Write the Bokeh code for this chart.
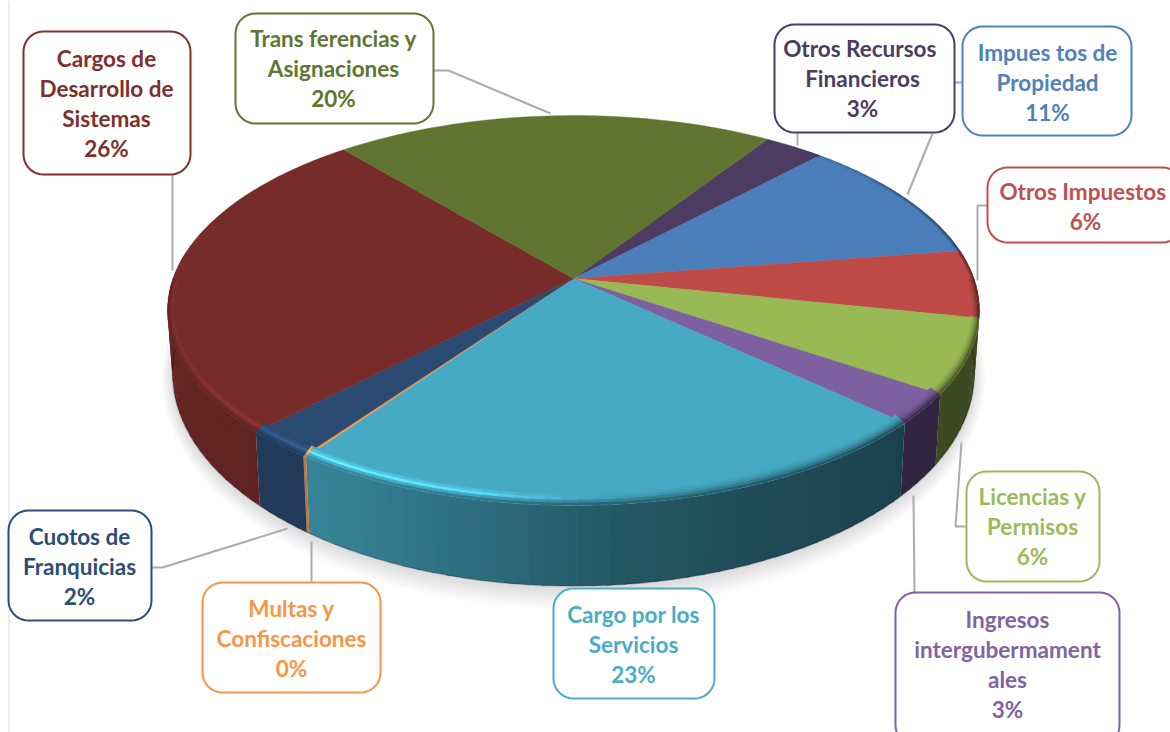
import numpy as np
from bokeh.plotting import figure
from bokeh.models import Range1d
from bokeh.core.properties import value
from bokeh.embed import file_html
from bokeh.resources import INLINE

# ---- data (clockwise, starting at the Otros Recursos slice) ----
categories = ["Otros Recursos Financieros", "Impuestos de Propiedad", "Otros Impuestos",
              "Licencias y Permisos", "Ingresos intergubermamentales", "Cargo por los Servicios",
              "Multas y Confiscaciones", "Cuotos de Franquicias", "Cargos de Desarrollo de Sistemas",
              "Transferencias y Asignaciones"]
slice_values = [2.8, 10.5, 5.6, 6.1, 2.5, 22.9, 0.12, 2.4, 26.4, 20.4]
slice_colors = ["#4D3B62", "#4A7EBB", "#BE4B48", "#98B954", "#7D60A0",
                "#46AAC4", "#F79646", "#2A4A72", "#772C2A", "#5F7530"]
label_lines = [
    ["Otros  Recursos", "Financieros", "3%"],
    ["Impues tos de", "Propiedad", "11%"],
    ["Otros  Impuestos", "6%"],
    ["Licencias y", "Permisos", "6%"],
    ["Ingresos", "intergubermament", "ales", "3%"],
    ["Cargo por los", "Servicios", "23%"],
    ["Multas y", "Confiscaciones", "0%"],
    ["Cuotos de", "Franquicias", "2%"],
    ["Cargos de", "Desarrollo de", "Sistemas", "26%"],
    ["Trans ferencias y", "Asignaciones", "20%"],
]
text_colors = ["#4D3B62", "#4F81BD", "#C0504D", "#9BBB59", "#8064A2",
               "#4BACC6", "#F79646", "#2C4D75", "#7F2F2D", "#5F7530"]

# layout: box left, top, right, bottom, text centre x, first-line y
boxes = [(774, 24, 954, 132, 862, 48), (962, 26, 1131, 135, 1047, 52), (987, 167, 1182, 242, 1085, 191),
         (966, 471, 1099, 581, 1032, 496), (895, 592, 1119, 745, 1007, 619), (553, 588, 714, 698, 633, 614),
         (202, 582, 380, 692, 291, 608), (8, 510, 151, 620, 79, 536), (23, 31, 190, 174, 106, 58),
         (235, 13, 433, 123, 333, 38)]
leaders = [[(797, 132), (797, 145)], [(954, 82), (962, 82)], [(932, 133), (907, 194)],
           [(987, 205), (977, 205), (977, 280)], [(966, 526), (955, 526), (961, 442)],
           [(913, 495), (914, 592)], [(151, 567), (162, 567), (287, 528)], [(311, 541), (311, 582)],
           [(172, 174), (172, 270)], [(433, 70), (448, 70), (550, 113)]]
LINE_HEIGHT = 30

# ---- projection of the pie onto the page ----
START = 56.6
CX, CY, A, B, K = 573.0, 278.0, 400.5, 189.7, 0.164
CY2, A2, B2 = 338.0, 395.5, 207.0


def top_pt(th, ru=1.0, rv=1.0):
    t = np.radians(th)
    u, v = ru * np.cos(t), -rv * np.sin(t)
    d = 1 - K * v
    return CX + A * u / d, CY + B * v / d


def bot_pt(th):
    t = np.radians(th)
    u, v = np.cos(t), -np.sin(t)
    d = 1 - K * v
    return CX + A2 * u / d, CY2 + B2 * v / d


def rgb(h):
    return np.array([int(h[i:i + 2], 16) for i in (1, 3, 5)], dtype=float)


def hx(c):
    c = np.clip(np.round(c), 0, 255).astype(int)
    return "#%02x%02x%02x" % tuple(c)


def wall_factor(x):
    return np.interp(x, [170, 310, 630, 900, 980], [0.84, 0.78, 0.50, 0.39, 0.40])


def glow(x):
    return np.interp(x, [167, 260, 330, 470, 590, 680], [0.12, 0.30, 0.50, 0.42, 0.08, 0.0])


p = figure(width=1170, height=732, min_border=0, toolbar_location=None, output_backend="svg",
           x_range=Range1d(0, 1170), y_range=Range1d(732, 0),
           x_axis_type=None, y_axis_type=None, outline_line_color=None)
p.grid.visible = False
p.background_fill_color = "white"
p.border_fill_color = "white"

# page edge line
p.line([8.5, 8.5], [0, 732], line_color="#D9D9D9", line_width=1)

# soft shadow
all_th = np.linspace(0, 360, 181)
bx, by = bot_pt(all_th)
for i in range(1, 12):
    sx = CX + (bx - CX) * (A2 + 1.0 * i) / A2
    sy = CY2 + 2 + (by - CY2) * (B2 + 1.6 * i) / B2
    p.patch(sx, sy, fill_color="black", fill_alpha=0.011, line_color=None)

# leaders
for pts in leaders:
    p.line([q[0] for q in pts], [q[1] for q in pts], line_color="#ABABAB", line_width=2)

# slice angles from values
vals = np.array(slice_values, dtype=float)
sweep = vals / vals.sum() * 360
edges = START - np.concatenate([[0], np.cumsum(sweep)])

wx, wy, wc = [], [], []
rx, ry, rc = [], [], []
tops = []
RINGS = [0.0, 0.2, 0.4, 0.6, 0.8, 1.0]   # 0 = outer rim, 1 = inner edge of the bevel
OVER = 0.5  # degrees of overlap to hide seams
for i, col in enumerate(slice_colors):
    base = rgb(col)
    n = max(1, int(np.ceil(sweep[i] / 2.0)))
    th = np.linspace(edges[i], edges[i + 1], n + 1)
    tx, ty = top_pt(th)
    tops.append((np.r_[CX, tx], np.r_[CY, ty], col))
    for j, (a0, a1) in enumerate(zip(th[:-1], th[1:])):
        mid = (a0 + a1) / 2
        s = np.sin(np.radians(mid))
        mx = top_pt(mid)[0]
        wall = base * wall_factor(mx)
        a0o = a0 + (OVER if j > 0 else 0)  # clockwise: angles fall, overlap backwards
        if s <= 0.14:
            x0, y0 = top_pt(a0o)
            x1, y1 = top_pt(a1)
            x2, y2 = bot_pt(a1)
            x3, y3 = bot_pt(a0o)
            wx.append([x0, x1, x2, x3])
            wy.append([y0, y1, y2, y3])
            wc.append(hx(wall))
        # bevel rings, painted from inner to outer so they overlap
        front = s < 0
        for r0, r1 in zip(RINGS[1:][::-1], RINGS[:-1][::-1]):
            t = (r0 + r1) / 2
            if front:
                c = base * (1 - (1 - t) ** 2) + wall * (1 - t) ** 2
                c = c * (1 + glow(mx) * np.exp(-((t - 0.5) / 0.2) ** 2))
            else:
                dark = np.interp(mx, [800, 900, 980], [0.0, 0.35, 0.6])
                if t > 0.4 or dark == 0:
                    continue
                c = base * (1 - dark * (1 - t * 2))
            ru0, rv0 = 1 - 0.022 * r0, 1 - 0.052 * r0
            ru1, rv1 = 1 - 0.022 * r1, 1 - 0.052 * r1
            ru_out = 1 - 0.022 * max(r1 - 0.05, 0)
            rv_out = 1 - 0.052 * max(r1 - 0.05, 0)
            xa, ya = top_pt(a0o, ru0, rv0)
            xb, yb = top_pt(a1, ru0, rv0)
            xc, yc = top_pt(a1, ru_out, rv_out)
            xd, yd = top_pt(a0o, ru_out, rv_out)
            rx.append([xa, xb, xc, xd])
            ry.append([ya, yb, yc, yd])
            rc.append(hx(c))

p.patches(wx, wy, fill_color=wc, line_color=None)
ex = np.linspace(-185, 5, 120)
p.line(*bot_pt(ex), line_color="black", line_alpha=0.22, line_width=1.5)
for tx, ty, col in tops:
    p.patch(tx, ty, fill_color=col, line_color=col, line_width=0.4)
p.patches(rx, ry, fill_color=rc, line_color=None)


# label boxes with rounded corners
def rounded(l, t, r, b, rad=20):
    a = np.radians(np.linspace(0, 90, 10))
    c, s = np.cos(a), np.sin(a)
    xs = np.r_[l + rad - rad * c, r - rad + rad * s, r - rad + rad * c, l + rad - rad * s]
    ys = np.r_[t + rad - rad * s, t + rad - rad * c, b - rad + rad * s, b - rad + rad * c]
    return xs, ys


for (l, t, r, b, tx, ty), lines, col, tc in zip(boxes, label_lines, slice_colors, text_colors):
    bxs, bys = rounded(l, t, r, b)
    p.patch(bxs, bys, fill_color="white", line_color=tc, line_width=2)
    p.text([tx] * len(lines), [ty + LINE_HEIGHT * k for k in range(len(lines))], text=lines,
           text_align="center", text_baseline="middle", text_color=tc,
           text_font=value("Lato"), text_font_style="bold", text_font_size="22.5px")

open("out.html", "w").write(file_html(p, INLINE))
